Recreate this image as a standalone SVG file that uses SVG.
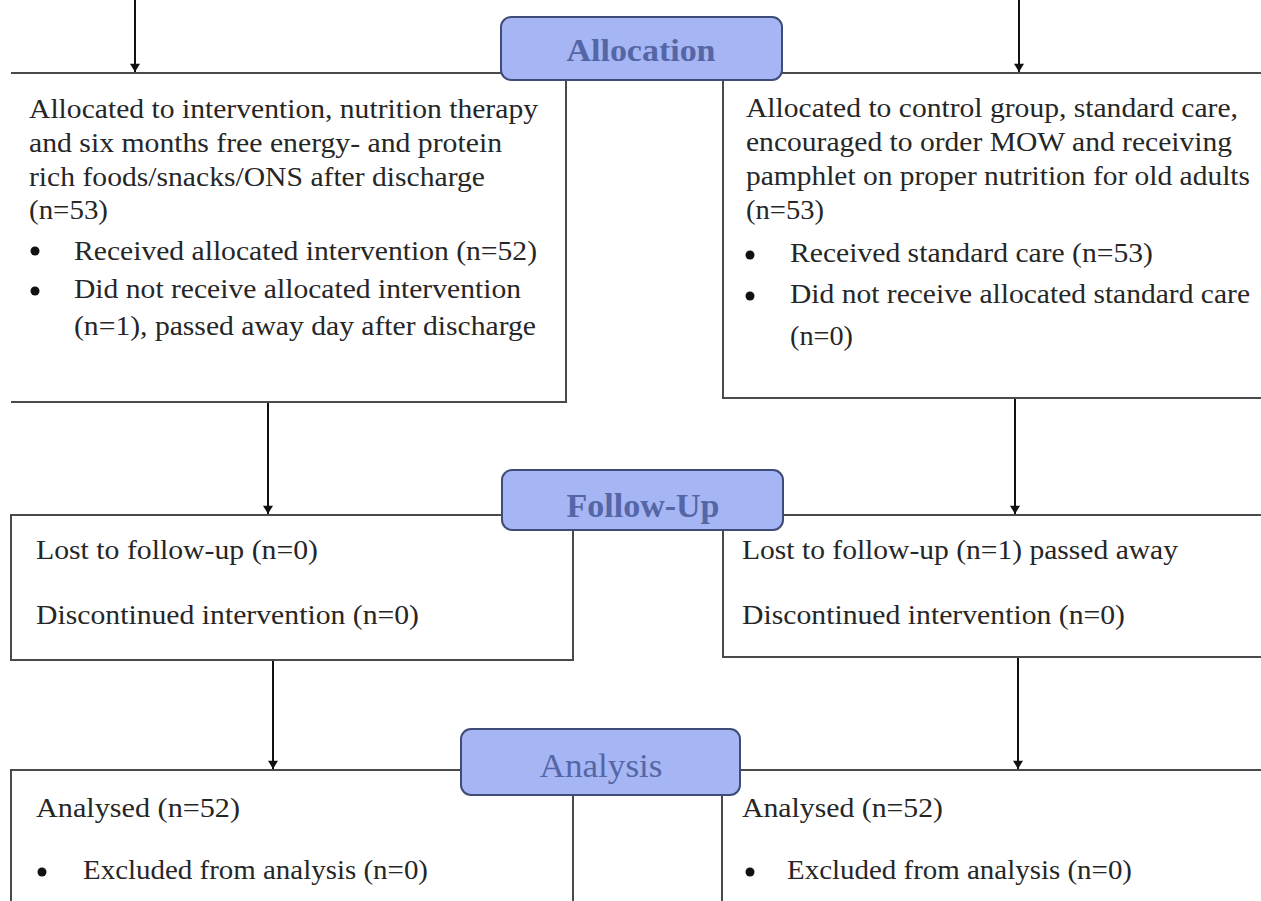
<svg xmlns="http://www.w3.org/2000/svg" width="1261" height="901" viewBox="0 0 1261 901">
<defs>
<marker id="ah" viewBox="0 0 10 12" refX="10" refY="6" markerWidth="12" markerHeight="10" markerUnits="userSpaceOnUse" orient="auto">
<path d="M0,0 L10,6 L0,12 z" fill="#111"/>
</marker>
<style>
.box{fill:#fff;stroke:#4a4a4a;stroke-width:2}
.hdr{fill:#a6b5f4;stroke:#3f4c78;stroke-width:2}
.ht{font-family:"Liberation Serif",serif;font-weight:bold;fill:#5566a6;text-anchor:middle}
.t{font-family:"Liberation Serif",serif;font-size:27px;fill:#262626}
.b{fill:#111}
.c{stroke:#111;stroke-width:2;fill:none;marker-end:url(#ah)}
</style>
</defs>
<rect width="1261" height="901" fill="#fff"/>
<g id="connectors">
<line class="c" x1="135" y1="0" x2="135" y2="72"/>
<line class="c" x1="1019" y1="0" x2="1019" y2="72"/>
<line class="c" x1="268" y1="402" x2="268" y2="514"/>
<line class="c" x1="1015" y1="398" x2="1015" y2="514"/>
<line class="c" x1="273" y1="660" x2="273" y2="769"/>
<line class="c" x1="1018" y1="657" x2="1018" y2="769"/>
</g>
<g id="alloc-left">
<path class="box" d="M11,73 H566 V402 H11"/>
<text class="t" x="29" y="118" textLength="509" lengthAdjust="spacingAndGlyphs">Allocated to intervention, nutrition therapy</text>
<text class="t" x="29" y="152" textLength="473" lengthAdjust="spacingAndGlyphs">and six months free energy- and protein</text>
<text class="t" x="29" y="186" textLength="456" lengthAdjust="spacingAndGlyphs">rich foods/snacks/ONS after discharge</text>
<text class="t" x="29" y="219" textLength="79" lengthAdjust="spacingAndGlyphs">(n=53)</text>
<circle class="b" cx="35" cy="251" r="4.5"/>
<text class="t" x="74" y="260" textLength="463" lengthAdjust="spacingAndGlyphs">Received allocated intervention (n=52)</text>
<circle class="b" cx="35" cy="291" r="4.5"/>
<text class="t" x="74" y="298" textLength="447" lengthAdjust="spacingAndGlyphs">Did not receive allocated intervention</text>
<text class="t" x="74" y="335" textLength="462" lengthAdjust="spacingAndGlyphs">(n=1), passed away day after discharge</text>
</g>
<g id="alloc-right">
<path class="box" d="M1261,73 H723 V398 H1261"/>
<text class="t" x="746" y="117" textLength="492" lengthAdjust="spacingAndGlyphs">Allocated to control group, standard care,</text>
<text class="t" x="746" y="151" textLength="486" lengthAdjust="spacingAndGlyphs">encouraged to order MOW and receiving</text>
<text class="t" x="746" y="185" textLength="504" lengthAdjust="spacingAndGlyphs">pamphlet on proper nutrition for old adults</text>
<text class="t" x="746" y="219" textLength="78" lengthAdjust="spacingAndGlyphs">(n=53)</text>
<circle class="b" cx="750" cy="255" r="4.5"/>
<text class="t" x="790" y="262" textLength="363" lengthAdjust="spacingAndGlyphs">Received standard care (n=53)</text>
<circle class="b" cx="750" cy="296" r="4.5"/>
<text class="t" x="790" y="303" textLength="460" lengthAdjust="spacingAndGlyphs">Did not receive allocated standard care</text>
<text class="t" x="790" y="345" textLength="63" lengthAdjust="spacingAndGlyphs">(n=0)</text>
</g>
<g id="allocation">
<rect class="hdr" x="501" y="17" width="281" height="63" rx="10"/>
<text class="ht" x="641" y="61" font-size="32" textLength="149" lengthAdjust="spacingAndGlyphs">Allocation</text>
</g>
<g id="follow-left">
<path class="box" d="M11,515 H573 V660 H11 Z"/>
<text class="t" x="36" y="559" textLength="282" lengthAdjust="spacingAndGlyphs">Lost to follow-up (n=0)</text>
<text class="t" x="36" y="624" textLength="383" lengthAdjust="spacingAndGlyphs">Discontinued intervention (n=0)</text>
</g>
<g id="follow-right">
<path class="box" d="M1261,515 H723 V657 H1261"/>
<text class="t" x="742" y="559" textLength="436" lengthAdjust="spacingAndGlyphs">Lost to follow-up (n=1) passed away</text>
<text class="t" x="742" y="624" textLength="383" lengthAdjust="spacingAndGlyphs">Discontinued intervention (n=0)</text>
</g>
<g id="followup">
<rect class="hdr" x="502" y="470" width="281" height="60" rx="10"/>
<text class="ht" x="643" y="517" font-size="33" textLength="153" lengthAdjust="spacingAndGlyphs">Follow-Up</text>
</g>
<g id="analysis-left">
<path class="box" d="M11,901 V770 H573 V901"/>
<text class="t" x="36" y="817" textLength="204" lengthAdjust="spacingAndGlyphs">Analysed (n=52)</text>
<circle class="b" cx="42" cy="872" r="4.5"/>
<text class="t" x="83" y="879" textLength="345" lengthAdjust="spacingAndGlyphs">Excluded from analysis (n=0)</text>
</g>
<g id="analysis-right">
<path class="box" d="M722,901 V770 H1261"/>
<text class="t" x="742" y="817" textLength="201" lengthAdjust="spacingAndGlyphs">Analysed (n=52)</text>
<circle class="b" cx="750" cy="872" r="4.5"/>
<text class="t" x="787" y="879" textLength="345" lengthAdjust="spacingAndGlyphs">Excluded from analysis (n=0)</text>
</g>
<g id="analysis">
<rect class="hdr" x="461" y="729" width="279" height="66" rx="10"/>
<text x="601" y="777" font-family="Liberation Serif, serif" font-size="34" fill="#5566a6" text-anchor="middle" textLength="123" lengthAdjust="spacingAndGlyphs">Analysis</text>
</g>
</svg>
